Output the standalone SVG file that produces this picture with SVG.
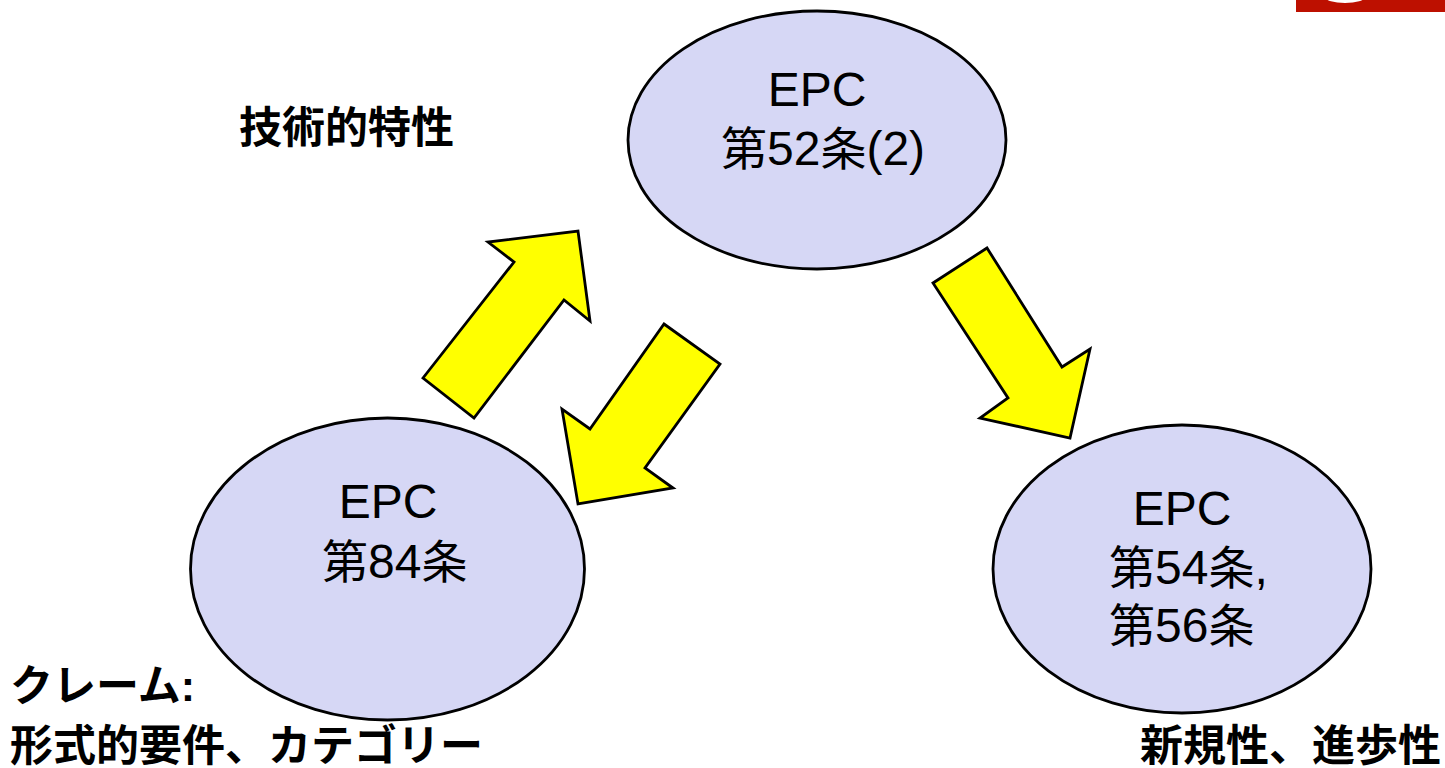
<svg xmlns="http://www.w3.org/2000/svg" width="1445" height="768" viewBox="0 0 1445 768">
<style>
.n{fill:#d6d7f5;stroke:#000;stroke-width:2.8}
.a{fill:#ff0;stroke:#000;stroke-width:2.8;stroke-linejoin:miter}
text{fill:#000;font-family:"Liberation Sans","Noto Sans CJK JP",sans-serif}
.e{font-size:48px}
.c{font-size:46px}
.b{font-size:43px;font-weight:bold}
</style>
<rect width="1445" height="768" fill="#fff"/>
<g id="logo"><rect x="1296" y="0" width="149" height="12" fill="#bd1000"/><ellipse cx="1345" cy="-3" rx="20" ry="6" fill="#fff"/></g>
<g id="connectors">
<polygon class="a" points="423,378 514,262 488,242 578,231 590,321 564,300 474,418"/>
<polygon class="a" points="664,324 720,364 645,468 673,488 578,504 562,409 590,429"/>
<polygon class="a" points="987,248 933,283 1008,398 980,418 1070,438 1090,349 1062,367"/>
</g>
<g id="node-epc52"><ellipse class="n" cx="817" cy="140" rx="189" ry="129"/>
<text class="e" x="817" y="106" text-anchor="middle">EPC</text><text class="e" x="721" y="165"><tspan class="c">第</tspan>52<tspan class="c">条</tspan>(2)</text></g>
<g id="node-epc84"><ellipse class="n" cx="387.500" cy="569" rx="197" ry="151"/>
<text class="e" x="388" y="518" text-anchor="middle">EPC</text><text class="e" x="322" y="578"><tspan class="c">第</tspan>84<tspan class="c">条</tspan></text></g>
<g id="node-epc54"><ellipse class="n" cx="1182" cy="569" rx="189" ry="144"/>
<text class="e" x="1182" y="525" text-anchor="middle">EPC</text><text class="e" x="1109" y="584"><tspan class="c">第</tspan>54<tspan class="c">条</tspan>,</text><text class="e" x="1109" y="642"><tspan class="c">第</tspan>56<tspan class="c">条</tspan></text></g>
<g id="label-tech"><text class="b" x="239" y="143">技術的特性</text></g>
<g id="label-claim"><text class="b" x="10" y="701">クレーム:</text><text class="b" x="10" y="761">形式的要件、カテゴリー</text></g>
<g id="label-novelty"><text class="b" x="1140" y="761">新規性、進歩性</text></g>
</svg>
